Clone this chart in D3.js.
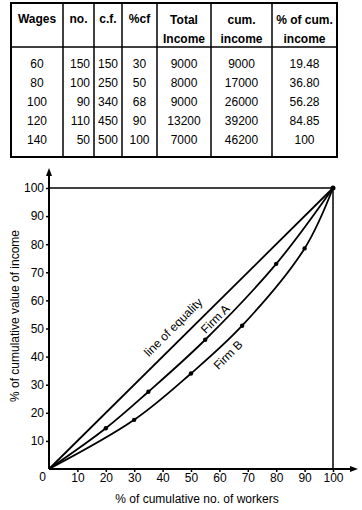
<!DOCTYPE html>
<html>
<head>
<meta charset="utf-8">
<script src="https://cdn.jsdelivr.net/npm/d3@7"></script>
<style>
	body { margin: 0; background: #fff; }
	text { font-family: "Liberation Sans", Arial, sans-serif; fill: #000; }
</style>
</head>
<body>
<div id="chart-area"></div>
<script>
/* table data */
const wages = [60, 80, 100, 120, 140]
const workers = [150, 100, 90, 110, 50]
const cumFreq = [150, 250, 340, 450, 500]
const pctCf = [30, 50, 68, 90, 100]
const totalIncome = [9000, 8000, 9000, 13200, 7000]
const cumIncome = [9000, 17000, 26000, 39200, 46200]
const pctCumIncome = ['19.48', '36.80', '56.28', '84.85', '100']
const headers = [['Wages'], ['no.'], ['c.f.'], ['%cf'], ['Total', 'Income'], ['cum.', 'income'], ['% of cum.', 'income']]

/* chart data */
const xTicks = [10, 20, 30, 40, 50, 60, 70, 80, 90, 100]
const yTicks = [10, 20, 30, 40, 50, 60, 70, 80, 90, 100]
const equality = [[0, 0], [100, 100]]
const firmA = [[0, 0], [20, 14.5], [35, 27.5], [55, 46], [80, 73], [100, 100]]
const firmB = [[0, 0], [30, 17.5], [50, 34], [68, 51], [90, 78.5], [100, 100]]

const $svg = d3.select('#chart-area')
	.append('svg')
	.attr('width', 362)
	.attr('height', 510)

/* Table */
const colEdges = [11, 63, 94, 122, 157, 211, 272, 337]
const tableTop = 3, headerBottom = 47, tableBottom = 157
const $table = $svg.append('g')

$table.append('rect')
	.attr('x', colEdges[0]).attr('y', tableTop)
	.attr('width', colEdges[7] - colEdges[0]).attr('height', tableBottom - tableTop)
	.attr('fill', 'none').attr('stroke', '#000').attr('stroke-width', 2)

$table.append('line')
	.attr('x1', colEdges[0]).attr('x2', colEdges[7])
	.attr('y1', headerBottom).attr('y2', headerBottom)
	.attr('stroke', '#000').attr('stroke-width', 1.5)

colEdges.slice(1, -1).forEach(x => {
	$table.append('line')
		.attr('x1', x).attr('x2', x)
		.attr('y1', tableTop).attr('y2', tableBottom)
		.attr('stroke', '#000').attr('stroke-width', 1.5)
})

headers.forEach((lines, i) => {
	const cx = (colEdges[i] + colEdges[i + 1]) / 2
	lines.forEach((t, j) => {
		$table.append('text')
			.attr('x', cx)
			.attr('y', lines.length === 1 ? 22.5 : 24 + j * 18.5)
			.attr('text-anchor', 'middle')
			.attr('font-size', 12)
			.attr('font-weight', 'bold')
			.text(t)
	})
})

const columns = [wages, workers, cumFreq, pctCf, totalIncome, cumIncome, pctCumIncome]
columns.forEach((col, i) => {
	const cx = (colEdges[i] + colEdges[i + 1]) / 2
	col.forEach((v, r) => {
		$table.append('text')
			.attr('x', i === 1 ? colEdges[2] - 4 : cx)
			.attr('y', 67.5 + r * 19.2)
			.attr('text-anchor', i === 1 ? 'end' : 'middle')
			.attr('font-size', 12)
			.text(v)
	})
})

/* Scales */
const xScale = d3.scaleLinear().domain([0, 100]).range([49, 333])
const yScale = d3.scaleLinear().domain([0, 100]).range([469, 188])

const $scene = $svg.append('g')

/* Axes */
const $yAxis = $scene.append('g')
	.attr('transform', `translate(${xScale(0)}, 0)`)
	.call(d3.axisLeft(yScale).tickValues(yTicks).tickSize(3).tickPadding(2))
const $xAxis = $scene.append('g')
	.attr('transform', `translate(0, ${yScale(0)})`)
	.call(d3.axisBottom(xScale).tickValues(xTicks).tickSize(3).tickPadding(1))

;[$yAxis, $xAxis].forEach($a => {
	$a.select('.domain').remove()
	$a.selectAll('line').attr('stroke', '#000').attr('stroke-width', 1.5)
	$a.selectAll('text').attr('font-size', 12).attr('fill', '#000')
		.style('font-family', '"Liberation Sans", Arial, sans-serif')
})

$scene.append('text')
	.attr('x', xScale(0) - 3)
	.attr('y', yScale(0) + 12)
	.attr('text-anchor', 'end')
	.attr('font-size', 12)
	.text('0')

// axis lines with arrows
$scene.append('line')
	.attr('x1', xScale(0)).attr('y1', yScale(0))
	.attr('x2', xScale(0)).attr('y2', 174)
	.attr('stroke', '#000').attr('stroke-width', 2)
$scene.append('path')
	.attr('d', `M${xScale(0)},168 L${xScale(0) - 3},176 L${xScale(0) + 3},176 Z`)
$scene.append('line')
	.attr('x1', xScale(0)).attr('y1', yScale(0))
	.attr('x2', 352).attr('y2', yScale(0))
	.attr('stroke', '#000').attr('stroke-width', 2)
$scene.append('path')
	.attr('d', `M358,${yScale(0)} L350,${yScale(0) - 3} L350,${yScale(0) + 3} Z`)

// box at 100
$scene.append('line')
	.attr('x1', xScale(0)).attr('x2', xScale(100))
	.attr('y1', yScale(100)).attr('y2', yScale(100))
	.attr('stroke', '#000').attr('stroke-width', 1.5)
$scene.append('line')
	.attr('x1', xScale(100)).attr('x2', xScale(100))
	.attr('y1', yScale(100)).attr('y2', yScale(0))
	.attr('stroke', '#000').attr('stroke-width', 1.5)

/* Curves */
const line = d3.line()
	.x(d => xScale(d[0]))
	.y(d => yScale(d[1]))
	.curve(d3.curveCatmullRom)

;[equality, firmA, firmB].forEach(data => {
	$scene.append('path')
		.attr('d', line(data))
		.attr('fill', 'none')
		.attr('stroke', '#000')
		.attr('stroke-width', 1.8)
})

;[firmA, firmB].forEach(data => {
	$scene.selectAll(null)
		.data(data.slice(1, -1))
		.enter()
		.append('circle')
		.attr('cx', d => xScale(d[0]))
		.attr('cy', d => yScale(d[1]))
		.attr('r', 2.2)
		.attr('fill', '#000')
})
$scene.append('circle')
	.attr('cx', xScale(100)).attr('cy', yScale(100)).attr('r', 2.5)

/* Line labels */
const lineLabels = [
	{ text: 'line of equality', x: 43.7, y: 50.5 },
	{ text: 'Firm A', x: 58.5, y: 53.4 },
	{ text: 'Firm B', x: 63, y: 40.6 },
]
lineLabels.forEach(d => {
	$scene.append('text')
		.attr('transform', `translate(${xScale(d.x)}, ${yScale(d.y)}) rotate(-45)`)
		.attr('text-anchor', 'middle')
		.attr('dy', '0.35em')
		.attr('font-size', 12)
		.text(d.text)
})

/* Axis labels */
$scene.append('text')
	.attr('transform', `translate(19, 316) rotate(-90)`)
	.attr('text-anchor', 'middle')
	.attr('font-size', 12)
	.text('% of cumulative value of income')

$scene.append('text')
	.attr('x', 197)
	.attr('y', 503)
	.attr('text-anchor', 'middle')
	.attr('font-size', 12)
	.text('% of cumulative no. of workers')
</script>
</body>
</html>
